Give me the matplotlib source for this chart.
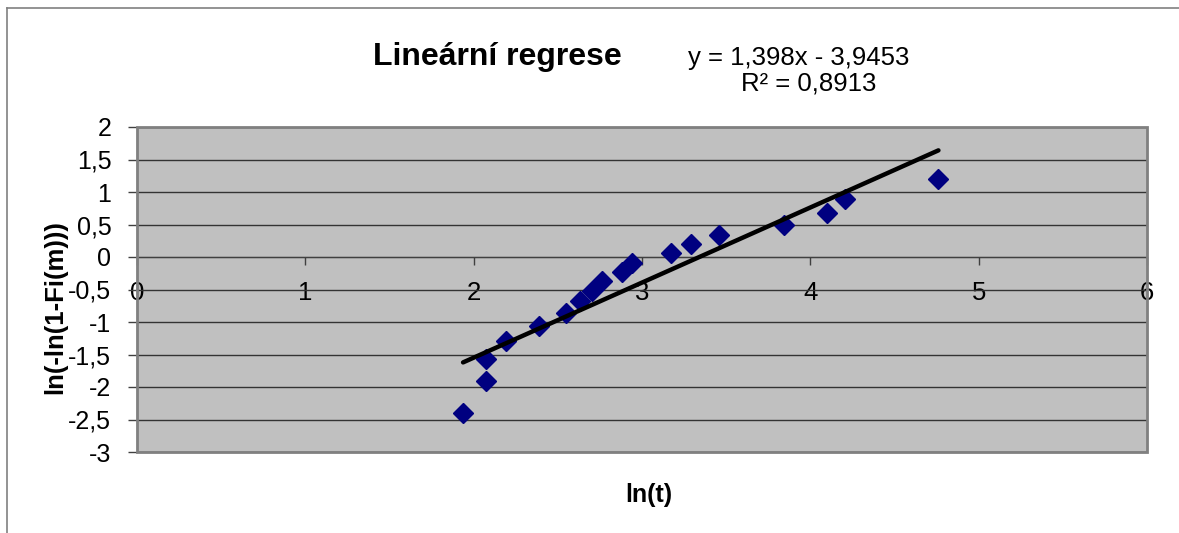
#!/usr/bin/python

import numpy as np
import matplotlib
matplotlib.use("Agg")
import matplotlib.pyplot as plt
from matplotlib.ticker import FuncFormatter, MultipleLocator
from matplotlib.patches import Rectangle
from matplotlib.lines import Line2D

# ln(t) and ln(-ln(1-Fi(m)))
lnT = [1.937, 2.075, 2.075, 2.19, 2.388, 2.55, 2.633, 2.70, 2.764,
       2.882, 2.938, 3.171, 3.29, 3.456, 3.844, 4.10, 4.208, 4.761]
lnF = [-2.395, -1.903, -1.565, -1.287, -1.062, -0.867, -0.682, -0.528, -0.374,
       -0.231, -0.087, 0.057, 0.2, 0.343, 0.497, 0.672, 0.888, 1.195]

titleText = "Lineární regrese"
eqText = "y = 1,398x - 3,9453"
r2Text = "R² = 0,8913"

W, H = 1179, 533
plt.rcParams['font.family'] = ['Liberation Sans', 'DejaVu Sans']


def commaFmt(v, pos):
    return ("%g" % v).replace(".", ",")


fig = plt.figure(figsize=(W / 100, H / 100), dpi=100)
ax = fig.add_axes([137 / W, 1 - 452 / H, (1147 - 137) / W, (452 - 127) / H])
ax.set_facecolor("#c0c0c0")

# scatter + trendline
ax.plot(lnT, lnF, linestyle="none", marker="D", markersize=10,
        color="#000080", zorder=3)
k, q = np.polyfit(lnT, lnF, 1)
xs = np.array([min(lnT), max(lnT)])
ax.plot(xs, k * xs + q, color="black", lw=3.2, solid_capstyle="round", zorder=4)

ax.set_xlim(0, 6)
ax.set_ylim(-3, 2)
ax.xaxis.set_major_locator(MultipleLocator(1))
ax.yaxis.set_major_locator(MultipleLocator(0.5))
ax.xaxis.set_major_formatter(FuncFormatter(commaFmt))
ax.yaxis.set_major_formatter(FuncFormatter(commaFmt))

ax.grid(axis="y", color="#333333", lw=1)
ax.set_axisbelow(True)

for s in ["top", "right"]:
    ax.spines[s].set_visible(False)
ax.spines["bottom"].set_position(("data", 0))
ax.spines["bottom"].set_color("#404040")
ax.spines["left"].set_color("#404040")
ax.add_patch(Rectangle((0, 0), 1, 1, transform=ax.transAxes, fill=False,
                       edgecolor="#808080", lw=2, clip_on=False, zorder=5))

ax.tick_params(axis="x", direction="out", length=6, width=1, pad=11,
               labelsize=18.5, color="#404040")
ax.tick_params(axis="y", direction="out", length=6.5, width=1, pad=12,
               labelsize=18, color="#404040")

# texts
fig.text(497 / W, 1 - 65 / H, titleText, fontsize=23, fontweight="bold",
         ha="center", va="baseline")
fig.text(799 / W, 1 - 65.5 / H, eqText, fontsize=18.5, ha="center", va="baseline")
fig.text(809 / W, 1 - 90 / H, r2Text, fontsize=18.5, ha="center", va="baseline")
fig.text(649 / W, 1 - 502 / H, "ln(t)", fontsize=18, fontweight="bold",
         ha="center", va="baseline")
fig.text(55 / W, 1 - 307 / H, "ln(-ln(1-Fi(m)))", fontsize=18.5, fontweight="bold",
         ha="center", va="center", rotation=90)

# outer chart border (cut at right and bottom)
fig.add_artist(Line2D([7.5 / W, 1], [1 - 8 / H, 1 - 8 / H], color="#808080", lw=1.2))
fig.add_artist(Line2D([7.5 / W, 7.5 / W], [0, 1 - 8 / H], color="#808080", lw=1.2))

fig.savefig("out.png", dpi=100)
